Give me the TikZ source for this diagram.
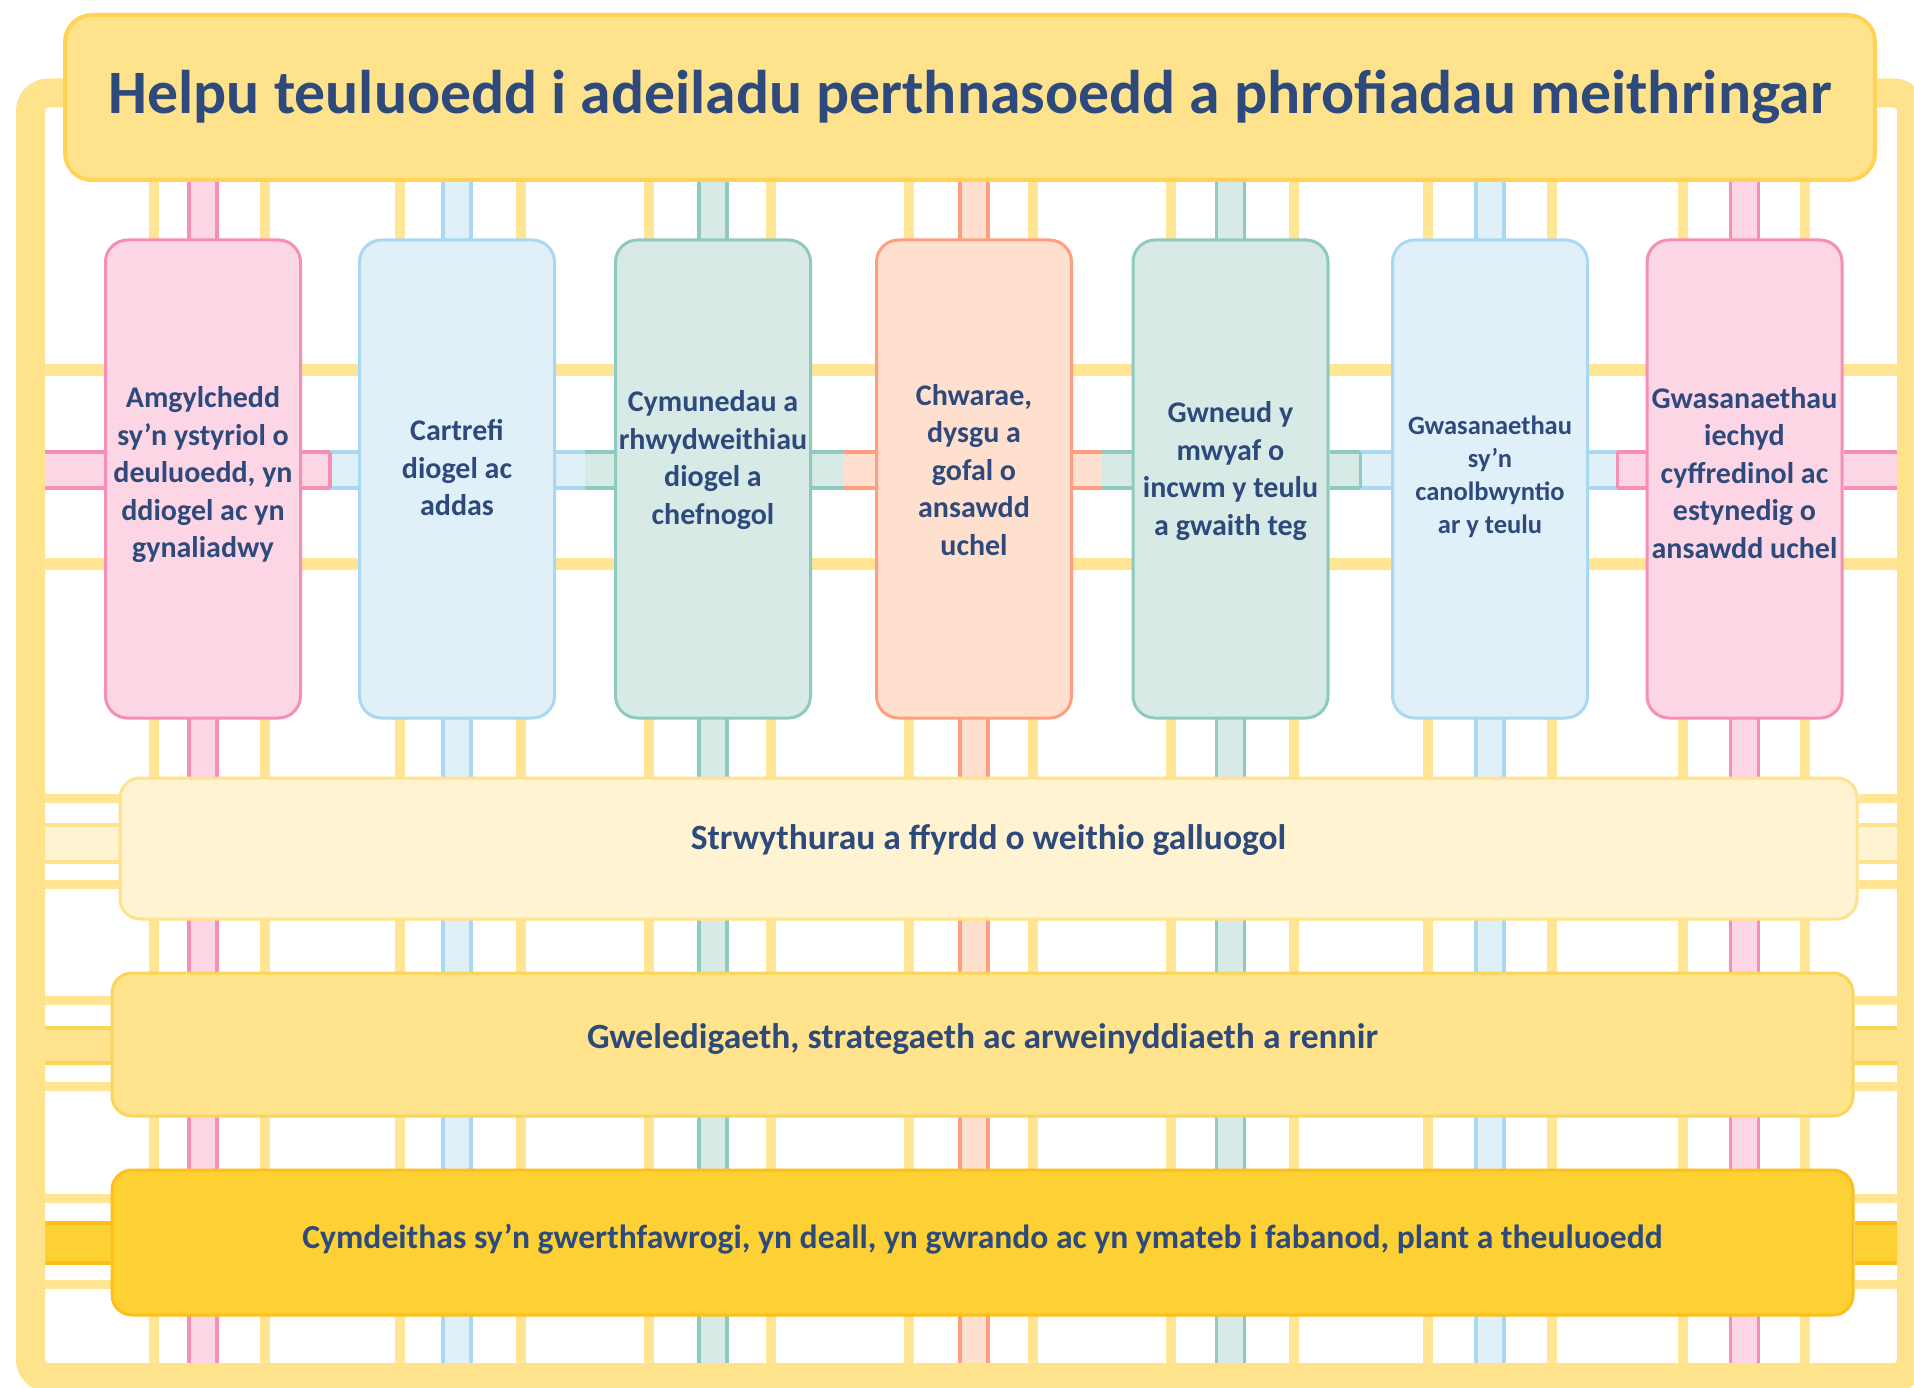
\documentclass[tikz,border=0pt]{standalone}
\usepackage{fontspec}
\setmainfont{Carlito}
\usetikzlibrary{calc}
\definecolor{txt}{HTML}{2E4A7D}
\definecolor{frameY}{HTML}{FFE38C}
\definecolor{titleB}{HTML}{FFD456}
\definecolor{thinY}{HTML}{FFE594}
\definecolor{pinkF}{HTML}{FCD6E5}
\definecolor{pinkB}{HTML}{F58FB5}
\definecolor{blueF}{HTML}{DFF0F9}
\definecolor{blueB}{HTML}{A9D8F2}
\definecolor{tealF}{HTML}{D7EAE6}
\definecolor{tealB}{HTML}{8FCABF}
\definecolor{salF}{HTML}{FFDFCD}
\definecolor{salB}{HTML}{FF9F80}
\definecolor{strF}{HTML}{FFF3D1}
\definecolor{strB}{HTML}{FFE38C}
\definecolor{gweF}{HTML}{FFE48D}
\definecolor{gweB}{HTML}{FBD55A}
\definecolor{cymF}{HTML}{FDD134}
\definecolor{cymB}{HTML}{FFBF1A}
\pgfdeclarelayer{bg}
\pgfdeclarelayer{fr}
\pgfsetlayers{bg,fr,main}
\tikzset{
  titlebox/.style={draw=titleB, fill=frameY, rounded corners=27, line width=4,
    minimum width=1810, minimum height=165, inner sep=0, text=txt,
    font=\bfseries\fontsize{61.7}{70}\selectfont},
  colbox/.style={rounded corners=22, line width=3, minimum width=195,
    minimum height=478, inner sep=0},
  coltext/.style={text=txt, font=\bfseries\fontsize{30}{37.5}\selectfont,
    align=center, inner sep=0},
  smalltext/.style={font=\bfseries\fontsize{26.5}{33}\selectfont},
  lowbox/.style={rounded corners=20, line width=3, inner sep=0},
  lowtext/.style={text=txt, font=\bfseries\fontsize{35.5}{40}\selectfont, inner sep=0},
  pipeedge/.style={line width=3.5},
  thinline/.style={thinY, line width=10},
}
\begin{document}
\begin{tikzpicture}[x=1pt,y=-1pt]
\useasboundingbox (0,0) rectangle (1914,1388);

% ---------- nodes ----------
\node[titlebox] (title) at (970,97.5) {Helpu teuluoedd i adeiladu perthnasoedd a phrofiadau meithringar};

\node[colbox, fill=pinkF, draw=pinkB,
  label={[coltext,yshift=4]center:{Amgylchedd\\sy’n ystyriol o\\deuluoedd, yn\\ddiogel ac yn\\gynaliadwy}}] (c1) at (203,479) {};
\node[colbox, fill=blueF, draw=blueB,
  label={[coltext,yshift=11]center:{Cartrefi\\diogel ac\\addas}}] (c2) at (457,479) {};
\node[colbox, fill=tealF, draw=tealB,
  label={[coltext,yshift=19]center:{Cymunedau a\\rhwydweithiau\\diogel a\\chefnogol}}] (c3) at (713,479) {};
\node[colbox, fill=salF, draw=salB,
  label={[coltext,yshift=9]center:{Chwarae,\\dysgu a\\gofal o\\ansawdd\\uchel}}] (c4) at (974,479) {};
\node[colbox, fill=tealF, draw=tealB,
  label={[coltext,yshift=8]center:{Gwneud y\\mwyaf o\\incwm y teulu\\a gwaith teg}}] (c5) at (1230.5,479) {};
\node[colbox, fill=blueF, draw=blueB,
  label={[coltext,smalltext,yshift=2]center:{Gwasanaethau\\sy’n\\canolbwyntio\\ar y teulu}}] (c6) at (1490,479) {};
\node[colbox, fill=pinkF, draw=pinkB,
  label={[coltext,yshift=6]center:{Gwasanaethau\\iechyd\\cyffredinol ac\\estynedig o\\ansawdd uchel}}] (c7) at (1744.5,479) {};

\node[lowbox, fill=strF, draw=strB, minimum width=1737, minimum height=141,
  label={[lowtext,yshift=8]center:{Strwythurau a ffyrdd o weithio galluogol}}] (str) at (988.5,848.5) {};
\node[lowbox, fill=gweF, draw=gweB, minimum width=1741, minimum height=143,
  label={[lowtext,yshift=5]center:{Gweledigaeth, strategaeth ac arweinyddiaeth a rennir}}] (gwe) at (982.5,1044.5) {};
\node[lowbox, fill=cymF, draw=cymB, minimum width=1741, minimum height=145,
  label={[lowtext,font=\bfseries\fontsize{33.6}{40}\selectfont,yshift=3]center:{Cymdeithas sy’n gwerthfawrogi, yn deall, yn gwrando ac yn ymateb i fabanod, plant a theuluoedd}}] (cym) at (982.5,1242.5) {};

% ---------- reference coordinates ----------
\coordinate (fl) at (40,0);
\coordinate (fr) at (1902,0);
\coordinate (fb) at (0,1372);
\coordinate (hy1) at (0,370);
\coordinate (hy2) at (0,564);
\coordinate (hpT) at (0,452);
\coordinate (hpB) at (0,488);
\coordinate (m12) at ($(c1.east)!0.5!(c2.west)$);
\coordinate (m23) at ($(c2.east)!0.5!(c3.west)$);
\coordinate (m34) at ($(c3.east)!0.5!(c4.west)$);
\coordinate (m45) at ($(c4.east)!0.5!(c5.west)$);
\coordinate (m56) at ($(c5.east)!0.5!(c6.west)$);
\coordinate (m67) at ($(c6.east)!0.5!(c7.west)$);

% ---------- background connectors ----------
\begin{pgfonlayer}{bg}
  \fill[white] (0,0) rectangle (1914,1388);
  % horizontal yellow rails
  \draw[thinY, line width=12] (fl |- hy1) -- (fr |- hy1);
  \draw[thinY, line width=12] (fl |- hy2) -- (fr |- hy2);
  % vertical thin yellow rails
  \foreach \c/\a/\b in {c1/-49/62, c2/-57/64, c3/-64/58, c4/-65/59, c5/-59.5/63.5, c6/-62/62, c7/-61.5/60.5}{
    \draw[thinline] ($(\c.center |- title.south)+(\a,0)$) -- ($(\c.center |- fb)+(\a,0)$);
    \draw[thinline] ($(\c.center |- title.south)+(\b,0)$) -- ($(\c.center |- fb)+(\b,0)$);
  }
  % vertical coloured pipes
  \foreach \c/\f/\e in {c1/pinkF/pinkB, c2/blueF/blueB, c3/tealF/tealB, c4/salF/salB, c5/tealF/tealB, c6/blueF/blueB, c7/pinkF/pinkB}{
    \fill[\f] ($(\c.center |- title.south)+(-14,0)$) rectangle ($(\c.center |- fb)+(14,0)$);
    \draw[\e, pipeedge] ($(\c.center |- title.south)+(-14,0)$) -- ($(\c.center |- fb)+(-14,0)$);
    \draw[\e, pipeedge] ($(\c.center |- title.south)+(14,0)$) -- ($(\c.center |- fb)+(14,0)$);
  }
  % horizontal coloured pipe segments between the columns
  \foreach \p/\q/\f/\e in {fl/c1.west/pinkF/pinkB, c1.east/m12/pinkF/pinkB, m12/c2.west/blueF/blueB,
      c2.east/m23/blueF/blueB, m23/c3.west/tealF/tealB, c3.east/m34/tealF/tealB, m34/c4.west/salF/salB,
      c4.east/m45/salF/salB, m45/c5.west/tealF/tealB, c5.east/m56/tealF/tealB, m56/c6.west/blueF/blueB,
      c6.east/m67/blueF/blueB, m67/c7.west/pinkF/pinkB, c7.east/fr/pinkF/pinkB}{
    \fill[\f] (\p |- hpT) rectangle (\q |- hpB);
    \draw[\e, pipeedge] (\p |- hpT) -- (\q |- hpT) (\p |- hpB) -- (\q |- hpB);
  }
  \draw[tealB, pipeedge] (m56 |- hpT) -- (m56 |- hpB);
  \draw[pinkB, pipeedge] (m67 |- hpT) -- (m67 |- hpB);
  \draw[pinkB, pipeedge] (m12 |- hpT) -- (m12 |- hpB);
  % side connectors of the wide boxes
  \foreach \n/\dy/\h/\f/\e in {str/-5/18.5/strF/frameY, gwe/1/17.5/gweF/gweB, cym/0.5/20/cymF/cymB}{
    \fill[\f] ($(fl |- \n.west)+(0,{\dy-\h})$) rectangle ($(\n.west)+(0,{\dy+\h})$);
    \draw[\e, pipeedge] ($(fl |- \n.west)+(0,{\dy-\h})$) -- ($(\n.west)+(0,{\dy-\h})$)
                        ($(fl |- \n.west)+(0,{\dy+\h})$) -- ($(\n.west)+(0,{\dy+\h})$);
    \draw[thinY, line width=9] ($(fl |- \n.west)+(0,{\dy-45})$) -- ($(\n.west)+(0,{\dy-45})$)
                               ($(fl |- \n.west)+(0,{\dy+41})$) -- ($(\n.west)+(0,{\dy+41})$);
    \fill[\f] ($(\n.east)+(0,{\dy-\h})$) rectangle ($(fr |- \n.east)+(0,{\dy+\h})$);
    \draw[\e, pipeedge] ($(\n.east)+(0,{\dy-\h})$) -- ($(fr |- \n.east)+(0,{\dy-\h})$)
                        ($(\n.east)+(0,{\dy+\h})$) -- ($(fr |- \n.east)+(0,{\dy+\h})$);
    \draw[thinY, line width=9] ($(\n.east)+(0,{\dy-45})$) -- ($(fr |- \n.east)+(0,{\dy-45})$)
                               ($(\n.east)+(0,{\dy+41})$) -- ($(fr |- \n.east)+(0,{\dy+41})$);
  }
\end{pgfonlayer}

% ---------- outer frame ----------
\begin{pgfonlayer}{fr}
  \draw[frameY, line width=29, rounded corners=18] (30.5,93) rectangle (1911.5,1377.5);
\end{pgfonlayer}
\end{tikzpicture}
\end{document}
